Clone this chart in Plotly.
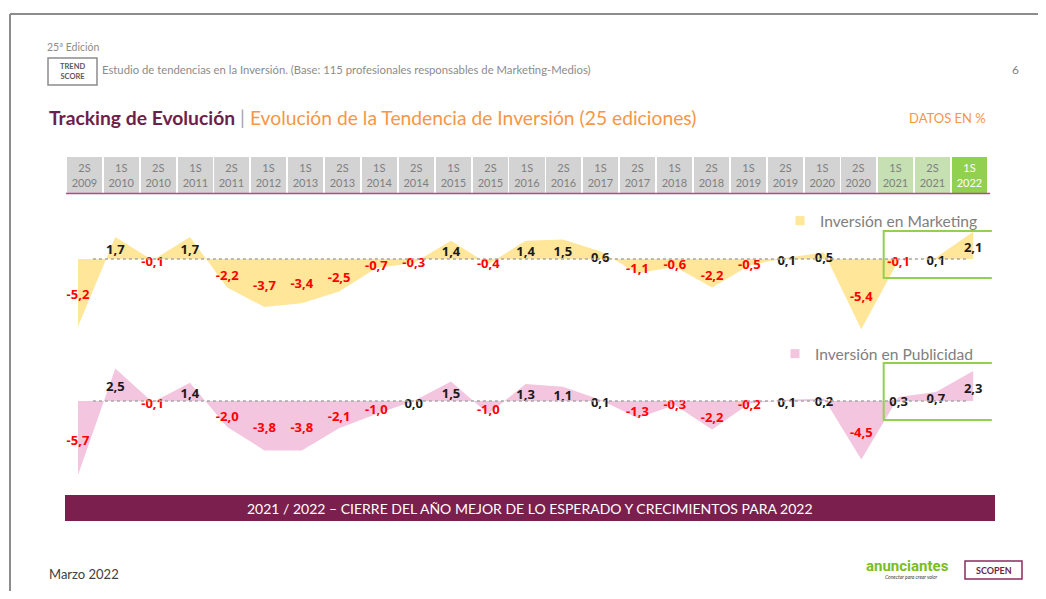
import plotly.graph_objects as go

# ---------------- data ----------------
periods = ["2S 2009", "1S 2010", "2S 2010", "1S 2011", "2S 2011", "1S 2012", "1S 2013",
           "2S 2013", "1S 2014", "2S 2014", "1S 2015", "2S 2015", "1S 2016", "2S 2016",
           "1S 2017", "2S 2017", "1S 2018", "2S 2018", "1S 2019", "2S 2019", "1S 2020",
           "2S 2020", "1S 2021", "2S 2021", "1S 2022"]
marketing = [-5.2, 1.7, -0.1, 1.7, -2.2, -3.7, -3.4, -2.5, -0.7, -0.3, 1.4, -0.4, 1.4,
             1.5, 0.6, -1.1, -0.6, -2.2, -0.5, 0.1, 0.5, -5.4, -0.1, 0.1, 2.1]
publicidad = [-5.7, 2.5, -0.1, 1.4, -2.0, -3.8, -3.8, -2.1, -1.0, 0.0, 1.5, -1.0, 1.3,
              1.1, 0.1, -1.3, -0.3, -2.2, -0.2, 0.1, 0.2, -4.5, 0.3, 0.7, 2.3]
period_status = ["old"] * 22 + ["recent", "recent", "current"]
series_names = ["Inversión en Marketing", "Inversión en Publicidad"]

# page has an 8px body margin: figure is drawn 8px in from the window edge
OFF = 8
W, H = 1046 - 2 * OFF, 599 - 2 * OFF
def PX(px):
    return (px - OFF) / W
def PY(py):
    return 1 - (py - OFF) / H

FONT = "Lato"
idx = list(range(len(periods)))

def fmt(v):
    return f"{v:.1f}".replace(".", ",")

cell_fill = {"old": "#d3d3d3", "recent": "#c6e0b4", "current": "#92d050"}
cell_text = {"old": "#7f7f7f", "recent": "#7f7f7f", "current": "#ffffff"}

fig = go.Figure()

# header cells (period labels)
fig.add_trace(go.Bar(
    x=idx, y=[1] * len(idx), base=0, width=0.95,
    xaxis="x2", yaxis="y3",
    marker=dict(color=[cell_fill[s] for s in period_status], line=dict(width=0)),
    text=[p.replace(" ", "<br>") for p in periods],
    textposition="inside", insidetextanchor="middle", textangle=0,
    textfont=dict(family=FONT, size=11, color=[cell_text[s] for s in period_status]),
    hoverinfo="skip", showlegend=False,
))

LABEL_DROP = 0.25  # small downward nudge of value labels (axis units)
series = [(marketing, "y", "#ffe699", "legend"), (publicidad, "y2", "#f3c5df", "legend2")]
for (vals, yax, col, leg), name in zip(series, series_names):
    fig.add_trace(go.Scatter(
        x=idx, y=vals, mode="none", fill="tozeroy", fillcolor=col,
        xaxis="x", yaxis=yax, showlegend=False, hoverinfo="skip",
    ))
    fig.add_trace(go.Scatter(
        x=idx, y=[v / 2 - LABEL_DROP for v in vals], mode="text",
        text=["<b>" + fmt(v) + "</b>" for v in vals],
        textposition="middle center",
        textfont=dict(family="Open Sans", size=13,
                      color=["#ff0000" if v < 0 else "#1a1a1a" for v in vals]),
        xaxis="x", yaxis=yax, showlegend=False, hoverinfo="skip", cliponaxis=False,
    ))
    # legend entry
    fig.add_trace(go.Scatter(
        x=[None], y=[None], mode="markers", name=name,
        marker=dict(symbol="square", size=9, color=col),
        xaxis="x", yaxis=yax, legend=leg, showlegend=True,
    ))

shapes = []
# slide frame
shapes.append(dict(type="line", xref="paper", yref="paper", x0=PX(10), x1=1, y0=PY(14), y1=PY(14),
                   line=dict(color="#8c8c8c", width=2)))
shapes.append(dict(type="line", xref="paper", yref="paper", x0=PX(10), x1=PX(10), y0=PY(14), y1=0,
                   line=dict(color="#8c8c8c", width=2)))
# trend score box
shapes.append(dict(type="rect", xref="paper", yref="paper", x0=PX(48), x1=PX(97), y0=PY(85), y1=PY(58),
                   line=dict(color="#8c8c8c", width=1.5)))
# line under header
shapes.append(dict(type="line", xref="paper", yref="paper", x0=PX(66), x1=PX(990), y0=PY(193.5), y1=PY(193.5),
                   line=dict(color="#b8497e", width=1.5)))
# zero dotted lines
for yax in ["y", "y2"]:
    shapes.append(dict(type="line", xref="x", yref=yax, x0=0.4, x1=23.85, y0=0, y1=0,
                       line=dict(color="#a6a6a6", width=1.5, dash="dot"), layer="above"))
# green highlight boxes
shapes.append(dict(type="rect", xref="x", yref="y", x0=21.6, x1=24.6, y0=-1.46, y1=2.15,
                   line=dict(color="#92d050", width=2)))
shapes.append(dict(type="rect", xref="x", yref="y2", x0=21.6, x1=24.6, y0=-1.46, y1=2.92,
                   line=dict(color="#92d050", width=2)))
# banner
shapes.append(dict(type="rect", xref="paper", yref="paper", x0=PX(65), x1=PX(995), y0=PY(521), y1=PY(495),
                   fillcolor="#7b1f4f", line=dict(width=0)))
# scopen box
shapes.append(dict(type="rect", xref="paper", yref="paper", x0=PX(965), x1=PX(1022), y0=PY(579), y1=PY(561),
                   line=dict(color="#8b2c5e", width=1.5)))

ann = []
def add_text(text, px, py, size, color, xanchor="left", family=FONT):
    ann.append(dict(text=text, x=PX(px), y=PY(py), xref="paper", yref="paper", showarrow=False,
                    xanchor=xanchor, yanchor="middle", font=dict(family=family, size=size, color=color)))

add_text("25ª Edición", 45, 47, 10.5, "#8c8c8c")
add_text("<b>TREND<br>SCORE</b>", 72.5, 71.5, 7.5, "#595959", xanchor="center")
add_text("Estudio de tendencias en la Inversión. (Base: 115 profesionales responsables de Marketing-Medios)",
         100, 70, 11.3, "#8c8c8c")
add_text("6", 1015, 70, 12, "#7f7f7f", xanchor="center")
add_text("<b>Tracking de Evolución</b> <span style='color:#a6a6a6'>|</span> "
         "<span style='color:#f79646'>Evolución de la Tendencia de Inversión (25 ediciones)</span>",
         47, 118, 19.3, "#6e1e4a")
add_text("DATOS EN %", 988, 118, 13, "#f79646", xanchor="right")
add_text("2021 / 2022 – CIERRE DEL AÑO MEJOR DE LO ESPERADO Y CRECIMIENTOS PARA 2022",
         530, 508, 14, "#ffffff", xanchor="center")
add_text("Marzo 2022", 47, 574, 13, "#404040")
add_text("<b>anunciantes</b>", 907, 566, 15, "#78be20", xanchor="center", family="Roboto")
add_text("<i>Conectar para crear valor</i>", 911, 577, 5, "#404040", xanchor="center")
add_text("<b>SCOPEN</b>", 993.5, 570, 9, "#6e1e4a", xanchor="center")

axis_off = dict(showgrid=False, zeroline=False, showticklabels=False, showline=False, ticks="",
                fixedrange=True)

fig.update_layout(
    width=W, height=H, margin=dict(l=0, r=0, t=0, b=0),
    paper_bgcolor="white", plot_bgcolor="white",
    font=dict(family=FONT),
    xaxis=dict(domain=[PX(59.35), PX(991.85)], range=[-0.5, 24.5], anchor="y", **axis_off),
    yaxis=dict(domain=[PY(340), PY(215)], range=[-(340 - 259) / 13, (259 - 215) / 13], anchor="x", **axis_off),
    yaxis2=dict(domain=[PY(480), PY(355)], range=[-(480 - 401) / 13, (401 - 355) / 13], anchor="x", **axis_off),
    xaxis2=dict(domain=[PX(66), PX(988)], range=[-0.5, 24.5], anchor="y3", **axis_off),
    yaxis3=dict(domain=[PY(193), PY(157)], range=[0, 1], anchor="x2", **axis_off),
    legend=dict(x=PX(780), y=PY(221), xanchor="left", yanchor="middle", bgcolor="rgba(0,0,0,0)",
                font=dict(family=FONT, size=15.6, color="#808080"), itemwidth=30),
    legend2=dict(x=PX(775), y=PY(354), xanchor="left", yanchor="middle", bgcolor="rgba(0,0,0,0)",
                 font=dict(family=FONT, size=15.6, color="#808080"), itemwidth=30),
    shapes=shapes, annotations=ann, bargap=0, showlegend=True,
)

fig.write_html("out.html")
